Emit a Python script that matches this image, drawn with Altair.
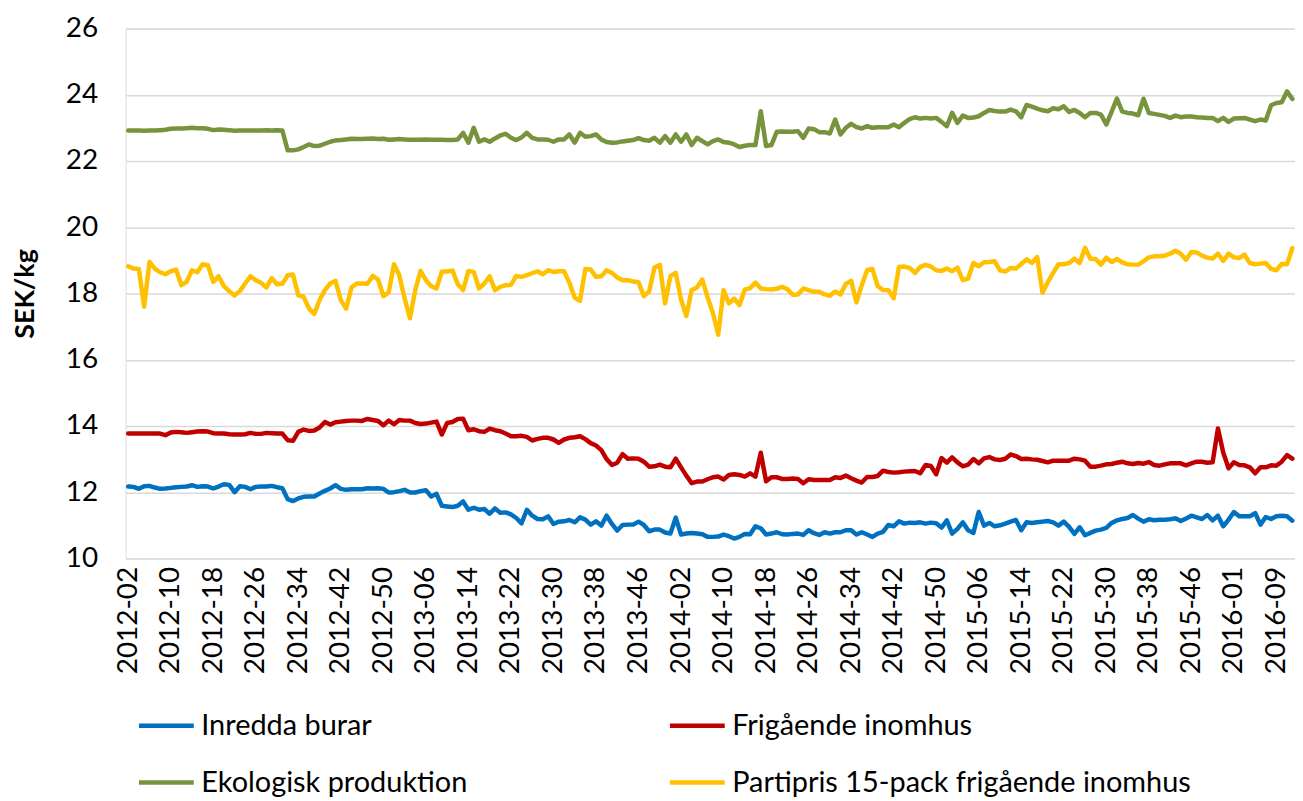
import altair as alt
import pandas as pd

# ---- categories -------------------------------------------------------
years = [2012, 2013, 2014, 2015, 2016]
first_week = [2, 1, 1, 1, 1]
last_week = [52, 52, 52, 53, 12]
weeks = []
for yr, a, b in zip(years, first_week, last_week):
    for w in range(a, b + 1):
        weeks.append(f"{yr}-{w:02d}")
tick_weeks = weeks[::8]

series_names = ["Inredda burar", "Frigående inomhus",
                "Ekologisk produktion", "Partipris 15-pack frigående inomhus"]
series_colors = ["#0070C0", "#C00000", "#77933C", "#FFC000"]

# ---- values (SEK/kg) ----------------------------------------------------
inredda = [
    12.17, 12.16, 12.10, 12.18, 12.19, 12.14, 12.10, 12.11, 12.13, 12.15,
    12.16, 12.17, 12.21, 12.16, 12.18, 12.17, 12.11, 12.17, 12.24, 12.22,
    12.00, 12.18, 12.16, 12.09, 12.16, 12.17, 12.17, 12.19, 12.15, 12.12,
    11.79, 11.73, 11.81, 11.86, 11.87, 11.87, 11.96, 12.04, 12.11, 12.21,
    12.10, 12.07, 12.09, 12.09, 12.09, 12.12, 12.11, 12.12, 12.10, 11.99,
    12.00, 12.03, 12.07, 11.99, 11.99, 12.03, 12.06, 11.87, 11.95, 11.59,
    11.57, 11.55, 11.59, 11.72, 11.47, 11.53, 11.47, 11.49, 11.35, 11.51,
    11.38, 11.39, 11.33, 11.22, 11.06, 11.47, 11.29, 11.19, 11.18, 11.27,
    11.04, 11.11, 11.12, 11.16, 11.09, 11.24, 11.17, 11.02, 11.12, 10.99,
    11.29, 11.04, 10.84, 11.01, 11.02, 11.02, 11.11, 11.01, 10.82, 10.87,
    10.87, 10.78, 10.75, 11.23, 10.72, 10.75, 10.77, 10.75, 10.73, 10.65,
    10.65, 10.66, 10.72, 10.67, 10.60, 10.65, 10.74, 10.73, 10.97, 10.91,
    10.72, 10.75, 10.79, 10.73, 10.72, 10.74, 10.75, 10.71, 10.85, 10.76,
    10.71, 10.79, 10.75, 10.79, 10.79, 10.85, 10.85, 10.72, 10.79, 10.72,
    10.65, 10.75, 10.80, 11.01, 10.97, 11.12, 11.05, 11.08, 11.07, 11.09,
    11.05, 11.08, 11.06, 10.93, 11.15, 10.75, 10.89, 11.09, 10.85, 10.77,
    11.40, 10.99, 11.07, 10.97, 11.00, 11.05, 11.11, 11.16, 10.85, 11.09,
    11.07, 11.09, 11.11, 11.13, 11.09, 10.99, 11.11, 10.95, 10.74, 10.94,
    10.70, 10.77, 10.84, 10.87, 10.92, 11.07, 11.15, 11.19, 11.22, 11.31,
    11.20, 11.11, 11.18, 11.15, 11.17, 11.17, 11.18, 11.21, 11.13, 11.20,
    11.29, 11.24, 11.19, 11.31, 11.15, 11.29, 10.97, 11.17, 11.40, 11.27,
    11.27, 11.27, 11.37, 11.02, 11.25, 11.19, 11.27, 11.29, 11.27, 11.14,
]

frigaende = [
    13.77, 13.77, 13.77, 13.77, 13.77, 13.77, 13.77, 13.72, 13.80, 13.82,
    13.81, 13.79, 13.81, 13.83, 13.84, 13.83, 13.78, 13.77, 13.77, 13.75,
    13.74, 13.74, 13.75, 13.79, 13.76, 13.76, 13.79, 13.78, 13.77, 13.77,
    13.57, 13.55, 13.82, 13.89, 13.85, 13.86, 13.95, 14.12, 14.04, 14.11,
    14.13, 14.15, 14.16, 14.16, 14.15, 14.21, 14.18, 14.15, 14.02, 14.16,
    14.05, 14.18, 14.16, 14.16, 14.09, 14.06, 14.07, 14.10, 14.13, 13.74,
    14.09, 14.12, 14.21, 14.22, 13.87, 13.90, 13.84, 13.82, 13.92, 13.87,
    13.84, 13.77, 13.69, 13.69, 13.70, 13.67, 13.56, 13.61, 13.64, 13.64,
    13.59, 13.49, 13.59, 13.64, 13.66, 13.69, 13.60, 13.48, 13.41, 13.27,
    13.00, 12.82, 12.89, 13.15, 13.01, 13.02, 13.01, 12.92, 12.77, 12.78,
    12.83, 12.77, 12.75, 13.01, 12.75, 12.50, 12.27, 12.32, 12.32, 12.39,
    12.45, 12.47, 12.38, 12.52, 12.54, 12.52, 12.47, 12.57, 12.47, 13.19,
    12.33, 12.45, 12.45, 12.40, 12.40, 12.41, 12.40, 12.27, 12.39, 12.37,
    12.37, 12.37, 12.37, 12.45, 12.43, 12.50, 12.42, 12.35, 12.29, 12.46,
    12.46, 12.49, 12.65, 12.61, 12.59, 12.60, 12.62, 12.63, 12.64, 12.57,
    12.82, 12.79, 12.54, 13.03, 12.89, 13.05, 12.90, 12.78, 12.83, 13.00,
    12.87, 13.02, 13.06, 12.99, 12.97, 13.01, 13.14, 13.09, 13.00, 13.01,
    12.99, 12.98, 12.94, 12.90, 12.95, 12.95, 12.95, 12.95, 13.01, 12.99,
    12.95, 12.77, 12.77, 12.80, 12.84, 12.85, 12.89, 12.92, 12.87, 12.85,
    12.88, 12.86, 12.91, 12.82, 12.80, 12.84, 12.87, 12.87, 12.87, 12.81,
    12.87, 12.92, 12.92, 12.89, 12.90, 13.92, 13.20, 12.72, 12.90, 12.82,
    12.81, 12.75, 12.57, 12.75, 12.75, 12.81, 12.80, 12.92, 13.12, 13.01,
]

ekologisk = [
    22.92, 22.92, 22.92, 22.91, 22.92, 22.92, 22.93, 22.94, 22.97, 22.98,
    22.98, 22.99, 23.00, 22.99, 22.99, 22.97, 22.93, 22.95, 22.94, 22.93,
    22.91, 22.92, 22.92, 22.92, 22.92, 22.92, 22.93, 22.92, 22.93, 22.92,
    22.32, 22.32, 22.35, 22.42, 22.50, 22.45, 22.46, 22.52, 22.58, 22.62,
    22.63, 22.65, 22.67, 22.66, 22.66, 22.67, 22.68, 22.66, 22.67, 22.64,
    22.65, 22.66, 22.65, 22.64, 22.64, 22.64, 22.65, 22.64, 22.64, 22.64,
    22.63, 22.63, 22.65, 22.85, 22.55, 23.00, 22.58, 22.65, 22.58, 22.68,
    22.77, 22.82, 22.70, 22.63, 22.71, 22.85, 22.70, 22.65, 22.65, 22.64,
    22.58, 22.65, 22.65, 22.80, 22.55, 22.85, 22.73, 22.75, 22.80, 22.65,
    22.57, 22.55, 22.56, 22.59, 22.61, 22.63, 22.69, 22.63, 22.61, 22.70,
    22.55, 22.75, 22.55, 22.80, 22.58, 22.80, 22.48, 22.70, 22.60, 22.50,
    22.60, 22.65, 22.57, 22.55, 22.50, 22.42, 22.46, 22.48, 22.48, 23.50,
    22.45, 22.48, 22.88, 22.89, 22.88, 22.88, 22.90, 22.70, 22.98, 22.96,
    22.87, 22.87, 22.83, 23.25, 22.80, 23.00, 23.12, 23.02, 22.98, 23.05,
    23.00, 23.02, 23.02, 23.02, 23.10, 23.02, 23.15, 23.26, 23.32, 23.28,
    23.30, 23.28, 23.30, 23.18, 23.05, 23.45, 23.15, 23.37, 23.30, 23.31,
    23.35, 23.45, 23.54, 23.51, 23.49, 23.49, 23.55, 23.50, 23.32, 23.69,
    23.64, 23.58, 23.53, 23.50, 23.59, 23.56, 23.65, 23.48, 23.54, 23.45,
    23.32, 23.45, 23.45, 23.40, 23.10, 23.48, 23.88, 23.49, 23.45, 23.43,
    23.38, 23.88, 23.45, 23.42, 23.39, 23.36, 23.30, 23.37, 23.32, 23.34,
    23.34, 23.32, 23.31, 23.30, 23.30, 23.20, 23.30, 23.18, 23.28, 23.29,
    23.30, 23.25, 23.20, 23.25, 23.22, 23.68, 23.75, 23.77, 24.10, 23.87,
]

partipris = [
    18.82, 18.75, 18.74, 17.60, 18.95, 18.75, 18.64, 18.58, 18.67, 18.72,
    18.25, 18.35, 18.70, 18.64, 18.88, 18.85, 18.35, 18.52, 18.22, 18.07,
    17.94, 18.07, 18.30, 18.52, 18.40, 18.32, 18.18, 18.46, 18.28, 18.29,
    18.55, 18.57, 17.94, 17.90, 17.55, 17.38, 17.80, 18.10, 18.30, 18.38,
    17.80, 17.54, 18.18, 18.30, 18.30, 18.29, 18.53, 18.42, 17.92, 18.03,
    18.88, 18.55, 17.85, 17.25, 18.10, 18.68, 18.40, 18.22, 18.15, 18.66,
    18.66, 18.69, 18.28, 18.10, 18.68, 18.65, 18.15, 18.30, 18.52, 18.10,
    18.20, 18.25, 18.26, 18.53, 18.50, 18.55, 18.61, 18.67, 18.58, 18.70,
    18.65, 18.67, 18.67, 18.32, 17.87, 17.78, 18.74, 18.72, 18.50, 18.52,
    18.70, 18.62, 18.48, 18.40, 18.40, 18.36, 18.34, 17.92, 18.06, 18.78,
    18.86, 17.70, 18.52, 18.62, 17.82, 17.32, 18.10, 18.18, 18.42, 17.88,
    17.40, 16.75, 18.10, 17.70, 17.84, 17.65, 18.12, 18.16, 18.33, 18.15,
    18.13, 18.12, 18.14, 18.20, 18.13, 17.96, 17.97, 18.15, 18.10, 18.05,
    18.05, 17.97, 17.93, 18.06, 17.97, 18.29, 18.38, 17.73, 18.25, 18.70,
    18.74, 18.22, 18.10, 18.10, 17.85, 18.80, 18.81, 18.77, 18.62, 18.80,
    18.86, 18.81, 18.70, 18.68, 18.75, 18.67, 18.78, 18.40, 18.45, 18.92,
    18.82, 18.94, 18.95, 18.97, 18.70, 18.66, 18.77, 18.75, 18.89, 19.03,
    18.92, 19.10, 18.02, 18.34, 18.62, 18.88, 18.88, 18.92, 19.05, 18.92,
    19.38, 19.05, 19.04, 18.87, 19.08, 18.95, 19.04, 18.94, 18.88, 18.87,
    18.87, 18.97, 19.09, 19.12, 19.12, 19.14, 19.20, 19.29, 19.20, 19.02,
    19.25, 19.24, 19.14, 19.08, 19.05, 19.20, 18.98, 19.20, 19.09, 19.07,
    19.17, 18.92, 18.88, 18.90, 18.92, 18.74, 18.70, 18.89, 18.88, 19.37,
]

y_ticks = [10, 12, 14, 16, 18, 20, 22, 24, 26]

# ---- long table ---------------------------------------------------------
rows = []
for name, vals in zip(series_names, [inredda, frigaende, ekologisk, partipris]):
    for wk, v in zip(weeks, vals):
        rows.append({"week": wk, "series": name, "value": v})
df = pd.DataFrame(rows)

FONT = "Lato"

chart = (
    alt.Chart(df)
    .mark_line(strokeWidth=4.5, strokeJoin="round", strokeCap="round")
    .encode(
        x=alt.X(
            "week:O",
            sort=weeks,
            scale=alt.Scale(type="point", padding=0.5),
            axis=alt.Axis(
                values=tick_weeks,
                title=None,
                labelAngle=-90,
                labelFontSize=28,
                labelFont=FONT,
                labelColor="#000000",
                labelPadding=8,
                ticks=False,
                domain=False,
                grid=False,
            ),
        ),
        y=alt.Y(
            "value:Q",
            scale=alt.Scale(domain=[10, 26], nice=False, zero=False),
            axis=alt.Axis(
                values=y_ticks,
                title="SEK/kg",
                titleFont=FONT,
                titleFontSize=27,
                titleFontWeight="bold",
                titleColor="#000000",
                titlePadding=26,
                labelFontSize=28,
                labelFont=FONT,
                labelColor="#000000",
                labelPadding=28,
                ticks=False,
                domain=False,
                grid=True,
                gridColor="#d9d9d9",
                gridWidth=1.5,
            ),
        ),
        color=alt.Color(
            "series:N",
            sort=series_names,
            scale=alt.Scale(domain=series_names, range=series_colors),
            legend=alt.Legend(
                title=None,
                orient="none",
                legendX=11,
                legendY=670,
                direction="horizontal",
                columns=2,
                gridAlign="all",
                columnPadding=0,
                rowPadding=12,
                symbolType="stroke",
                symbolSize=3025,
                symbolStrokeWidth=4.5,
                labelFont=FONT,
                labelFontSize=29,
                labelColor="#000000",
                labelOffset=5,
                labelLimit=0,
                padding=0,
            ),
        ),
    )
    .properties(
        width=1174,
        height=532,
        autosize=alt.AutoSizeParams(type="none"),
        padding={"left": 118, "top": 19, "right": 0, "bottom": 244},
    )
    .configure_view(stroke=None)
    .configure(background="white")
)

chart.save("out.html", embed_options={"renderer": "svg", "actions": False})
